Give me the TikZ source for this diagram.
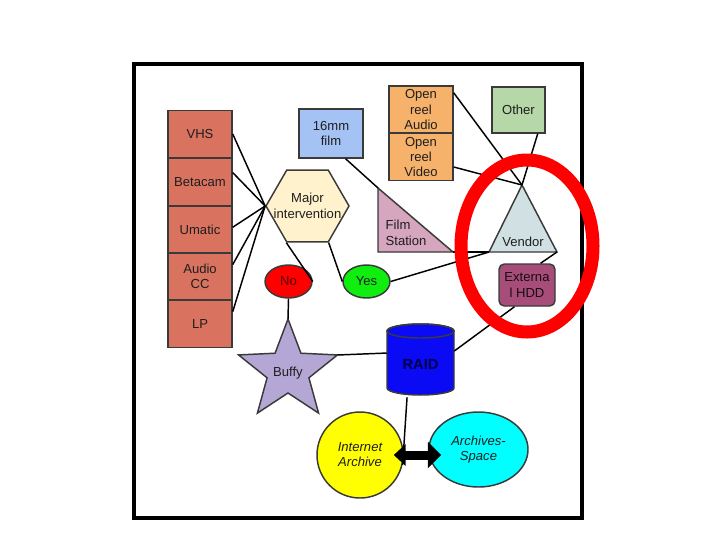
\documentclass[tikz,border=0pt]{standalone}
\usepackage{fontspec}
\setmainfont{Liberation Sans}
\usetikzlibrary{shapes.geometric,arrows.meta}
\definecolor{salmon}{HTML}{D9735F}
\definecolor{filmblue}{HTML}{A4C2F4}
\definecolor{reelorange}{HTML}{F6B26B}
\definecolor{othergreen}{HTML}{B6D7A8}
\definecolor{hexyellow}{HTML}{FFF2CC}
\definecolor{fspink}{HTML}{D5A6BD}
\definecolor{vendgray}{HTML}{D0E0E3}
\definecolor{hddpurple}{HTML}{A64D79}
\definecolor{nored}{HTML}{FF0000}
\definecolor{yesgreen}{HTML}{10EE10}
\definecolor{buffylav}{HTML}{B4A7D6}
\definecolor{raidblue}{HTML}{0A0AF5}
\definecolor{iayellow}{HTML}{FFFF00}
\definecolor{ascyan}{HTML}{00FFFF}
\definecolor{edgegray}{HTML}{3A3A3A}
\definecolor{txt}{HTML}{1E1E1E}
\definecolor{ringred}{HTML}{FF0000}
\begin{document}
\begin{tikzpicture}[x=0.75pt,y=-0.75pt,
  every node/.style={font=\fontsize{9.8}{11.6}\selectfont, text=txt, align=center},
  shapebox/.style={draw=edgegray, line width=1.1pt},
  leftbox/.style={shapebox, rectangle, fill=salmon, minimum width=48pt, minimum height=35.6pt, inner sep=0pt},
  reelbox/.style={shapebox, rectangle, fill=reelorange, minimum width=48pt, minimum height=35.25pt, inner sep=0pt},
  oval/.style={shapebox, ellipse, inner sep=0pt},
  conn/.style={draw=black, line width=1.1pt},
]
\useasboundingbox (0,0) rectangle (720,540);
% frame
\draw[line width=2.3pt] (134,64) rectangle (582,518);

% left column
\node[leftbox] (vhs) at (200,134) {VHS};
\node[leftbox] (betacam) at (200,182) {Betacam};
\node[leftbox] (umatic) at (200,229.5) {Umatic};
\node[leftbox] (audiocc) at (200,276.5) {Audio\\CC};
\node[leftbox] (lp) at (200,323.5) {LP};

% 16mm film
\node[shapebox, rectangle, fill=filmblue, minimum width=48pt, minimum height=36.75pt, inner sep=0pt] (film) at (331,133.5) {16mm\\film};

% open reel
\node[reelbox] (audio) at (421,109.5) {Open\\reel\\Audio};
\node[reelbox] (video) at (421,157) {Open\\reel\\Video};

% other
\node[shapebox, rectangle, fill=othergreen, minimum width=39.75pt, minimum height=34.5pt, inner sep=0pt] (other) at (518.5,110) {Other};

% hexagon
\node[shapebox, regular polygon, regular polygon sides=6, minimum size=62.25pt, inner sep=0pt, fill=hexyellow] (hex) at (307.5,206) {};
\node (hexlab) at (307.5,206) {Major\\intervention};

% film station triangle
\coordinate (fsTop) at (378,188);
\coordinate (fsBL) at (378,252);
\coordinate (fsBR) at (453,252);
\draw[shapebox, fill=fspink] (fsTop) -- (fsBL) -- (fsBR) -- cycle;
\node[anchor=west, align=left] (fslab) at (381,233) {Film\\Station};

% vendor triangle
\coordinate (vApex) at (522,185);
\coordinate (vL) at (489,252);
\coordinate (vR) at (557,252);
\draw[shapebox, fill=vendgray] (vApex) -- (vL) -- (vR) -- cycle;
\node (vendlab) at (523,242) {Vendor};

% external HDD
\node[shapebox, rectangle, rounded corners=4pt, fill=hddpurple, minimum width=42pt, minimum height=31.5pt, inner sep=0pt, text=black!85!hddpurple] (hdd) at (527,285) {Externa\\l HDD};

% No / Yes
\node[oval, fill=nored, minimum width=35.25pt, minimum height=24.75pt, text=black!70!red] (no) at (288.5,281.5) {No};
\node[oval, fill=yesgreen, minimum width=35.25pt, minimum height=24.75pt] (yes) at (366.5,281.5) {Yes};

% Buffy star
\draw[shapebox, fill=buffylav, shift={(288,371)}]
  (90:39pt) -- (126:16.5pt) -- (162:39pt) -- (198:16.5pt) -- (234:39pt)
  -- (270:16.5pt) -- (306:39pt) -- (342:16.5pt) -- (18:39pt) -- (54:16.5pt) -- cycle;
\coordinate (buffyTop) at (288,319);
\coordinate (buffyRight) at (337.5,355);
\node (buffy) at (288,373) {Buffy};

% RAID cylinder
\draw[shapebox, fill=raidblue] (387,331) -- (387,388)
  arc[start angle=180, end angle=360, x radius=25.125pt, y radius=5.25pt]
  -- (454,331)
  arc[start angle=0, end angle=180, x radius=25.125pt, y radius=5.25pt] -- cycle;
\draw[shapebox] (420.5,331) ellipse [x radius=25.125pt, y radius=5.25pt];
\node[rectangle, minimum width=50.25pt, minimum height=49.5pt, inner sep=0pt, font=\fontsize{11}{12}\selectfont\bfseries, text={rgb,255:red,0;green,0;blue,70}] (raid) at (420.5,364) {RAID};

% Internet Archive / ArchivesSpace
\node[oval, fill=iayellow, minimum width=64.5pt, minimum height=64.5pt, font=\fontsize{9.8}{11.2}\selectfont\itshape] (ia) at (360,455) {Internet\\Archive};
\node[oval, fill=ascyan, minimum width=74.25pt, minimum height=56.25pt, font=\fontsize{9.8}{11.2}\selectfont\itshape] (as) at (478.5,449.5) {Archives-\\Space};

% connectors
\draw[conn] (vhs.east) -- (hex.180);
\draw[conn] (betacam.16) -- (hex.180);
\draw[conn] (umatic.4) -- (hex.180);
\draw[conn] (audiocc.20) -- (hex.180);
\draw[conn] (lp.20) -- (hex.180);
\draw[conn] (hex.240) -- (no.east);
\draw[conn] (hex.300) -- (yes.west);
\draw[conn] (film.-60) -- (fsTop);
\draw[conn] (fsBR) -- (vL);
\draw[conn] (yes.east) -- (vL);
\draw[conn] (audio.27) -- (vApex);
\draw[conn] (video.-17) -- (vApex);
\draw[conn] (other.-51) -- (vApex);
\draw[conn] (vR) -- (hdd.58);
\draw[conn] (hdd.-120) -- (raid.21);
\draw[conn] (no.south) -- (buffyTop);
\draw[conn] (buffyRight) -- (raid.162);
\draw[conn] (raid.-112) -- (ia.-13);
\draw[line width=6.75pt, {Triangle[length=9pt,width=16pt]}-{Triangle[length=10pt,width=19pt]},
  shorten <=-7.5pt, shorten >=-9.75pt] (ia.east) -- (ia.east -| as.west);

% red highlight ring
\node[draw=ringred, line width=9.75pt, ellipse, minimum width=99pt, minimum height=129pt, inner sep=0pt] (ring) at (527,246) {};
\end{tikzpicture}
\end{document}
